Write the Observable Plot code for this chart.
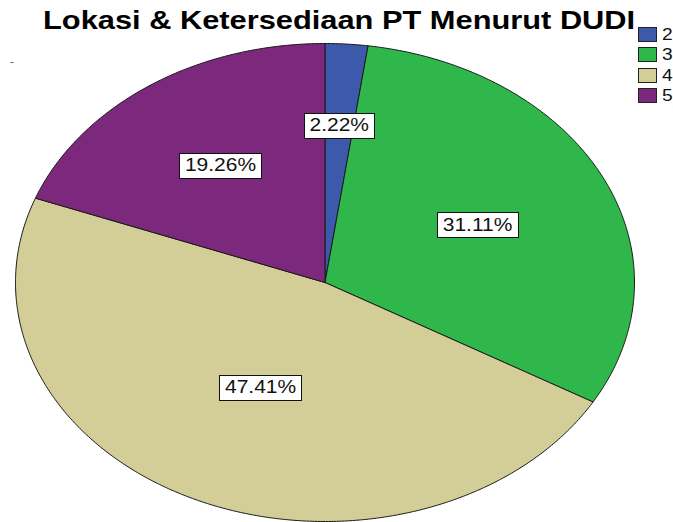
<!DOCTYPE html>
<html><head><meta charset="utf-8">
<script src="https://cdn.jsdelivr.net/npm/d3@7"></script>
<script src="https://cdn.jsdelivr.net/npm/@observablehq/plot@0.6"></script>
<style>
body{margin:0;background:#fff;}
#wrap{position:relative;width:673px;height:522px;overflow:hidden;font-family:Arial,"Liberation Sans",sans-serif;}
#wrap svg{position:absolute;left:0;top:0;}
#title{position:absolute;left:43px;top:8px;font-size:25px;font-weight:bold;white-space:nowrap;transform-origin:0 0;transform:scaleX(1.232);color:#000;line-height:1;z-index:2;}
#legend{position:absolute;left:638px;top:27px;z-index:2;}
.item{position:absolute;left:0;width:40px;height:16px;}
.sw{position:absolute;left:0;top:0;width:17px;height:13px;border:1px solid #222;}
.lab{position:absolute;left:24px;top:-1px;font-size:16px;line-height:18px;transform-origin:0 0;transform:scaleX(1.2);color:#111;}
#dash{position:absolute;left:10px;top:55px;font-size:12px;color:#666;z-index:2;}
</style>
</head><body>
<div id="wrap">
  <div id="title"></div>
  <div id="legend"></div>
  <div id="dash">-</div>
</div>
<script>
const titleText = "Lokasi & Ketersediaan PT Menurut DUDI";
const categories = ["2", "3", "4", "5"];
const counts = [3, 42, 64, 26];
const percentLabels = ["2.22%", "31.11%", "47.41%", "19.26%"];
const colors = ["#3d59ab", "#2fb74b", "#d3ce97", "#7c287d"];

document.getElementById("title").textContent = titleText;

// legend
const legend = document.getElementById("legend");
categories.forEach((c, i) => {
  const it = document.createElement("div");
  it.className = "item";
  it.style.top = (i * 20.3) + "px";
  const sw = document.createElement("div");
  sw.className = "sw";
  sw.style.background = colors[i];
  const lab = document.createElement("div");
  lab.className = "lab";
  lab.textContent = c;
  it.appendChild(sw); it.appendChild(lab);
  legend.appendChild(it);
});

// pie geometry from data
const total = d3.sum(counts);
const arcs = d3.pie().sort(null).value(d => d)(counts);
const verts = [];
arcs.forEach((a, i) => {
  const cat = categories[i];
  const n = Math.max(2, Math.ceil((a.endAngle - a.startAngle) / (Math.PI / 360)));
  verts.push({cat, x: 0, y: 0});
  for (let k = 0; k <= n; k++) {
    const t = a.startAngle + (a.endAngle - a.startAngle) * k / n;
    verts.push({cat, x: Math.sin(t), y: Math.cos(t)});
  }
  verts.push({cat, x: 0, y: 0});
});
// label placement rule: closer to the centre for larger slices
const labelData = arcs.map((a, i) => {
  const mid = (a.startAngle + a.endAngle) / 2;
  const r = 2 / 3 - 0.38 * (counts[i] / total);
  return {label: percentLabels[i], x: r * Math.sin(mid), y: r * Math.cos(mid)};
});

const chart = Plot.plot({
  width: 673,
  height: 522,
  style: {fontFamily: "Arial, 'Liberation Sans', sans-serif", background: "transparent"},
  x: {domain: [-1, 1], range: [15, 634], axis: null},
  y: {domain: [-1, 1], range: [521, 43], axis: null},
  color: {domain: categories, range: colors},
  marks: [
    Plot.line(verts, {x: "x", y: "y", z: "cat", fill: "cat", stroke: "#1a1a1a", strokeWidth: 1, strokeLinejoin: "round"}),
    Plot.text(labelData, {x: "x", y: "y", text: "label", fontSize: 17.5, fill: "#111"})
  ]
});
document.getElementById("wrap").appendChild(chart);

// white label boxes, texts stretched like the original
const svgRect = chart.getBoundingClientRect();
const textGroup = chart.querySelector('g[aria-label="text"]');
chart.querySelectorAll('g[aria-label="text"] text').forEach(t => {
  const x = +t.getAttribute("x") || 0, y = +t.getAttribute("y") || 0;
  const T = t.getAttribute("transform") || "";
  t.setAttribute("transform", `${T} translate(${x},${y}) scale(1.2,1) translate(${-x},${-y})`);
  const b = t.getBoundingClientRect();
  const cx = b.left - svgRect.left + b.width / 2;
  const cy = b.top - svgRect.top + b.height / 2;
  const w = b.width + 11, h = 25;
  const rect = document.createElementNS("http://www.w3.org/2000/svg", "rect");
  rect.setAttribute("x", Math.round(cx - w / 2) + 0.5);
  rect.setAttribute("y", Math.round(cy - h / 2) + 0.5);
  rect.setAttribute("width", Math.round(w));
  rect.setAttribute("height", h);
  rect.setAttribute("fill", "#fff");
  rect.setAttribute("stroke", "#111");
  rect.setAttribute("stroke-width", 1);
  chart.insertBefore(rect, textGroup);
});
</script>
</body></html>
